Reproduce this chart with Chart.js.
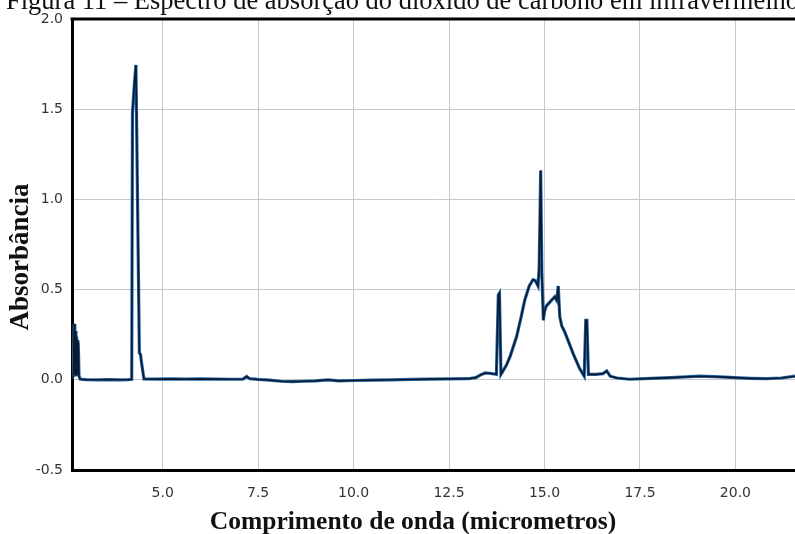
<!DOCTYPE html>
<html>
<head>
<meta charset="utf-8">
<script src="https://cdn.jsdelivr.net/npm/chart.js@4/dist/chart.umd.min.js"></script>
<style>
  html, body { margin: 0; padding: 0; background: #ffffff; overflow: hidden; }
  #wrap { position: relative; width: 795px; height: 534px; }
</style>
</head>
<body>
<div id="wrap"><canvas id="c" width="795" height="534"></canvas></div>
<script>
// ---- Data ----
const chartTitle = "Figura 11 – Espectro de absorção do dióxido de carbono em infravermelho";
const xAxisTitle = "Comprimento de onda (micrometros)";
const yAxisTitle = "Absorbância";

const wavelength = [
  2.626, 2.66, 2.685, 2.70, 2.715, 2.73, 2.745, 2.76, 2.775, 2.79, 2.81, 2.84, 2.9,
  3.0, 3.3, 3.6, 3.9, 4.1, 4.19, 4.21, 4.26, 4.30, 4.39, 4.42, 4.45, 4.51,
  4.8, 5.2, 5.6, 6.0, 6.4, 6.8, 7.1, 7.2, 7.28, 7.5, 7.8, 8.1, 8.4, 8.7, 9.0,
  9.33, 9.6, 10.0, 10.5, 11.0, 11.5, 12.0, 12.5, 13.0, 13.2, 13.35, 13.45, 13.6,
  13.74, 13.79, 13.82, 13.86, 14.0, 14.1, 14.27, 14.4, 14.48, 14.6, 14.7, 14.76,
  14.83, 14.86, 14.90, 14.93, 14.97, 15.0, 15.05, 15.18, 15.27, 15.32, 15.36,
  15.40, 15.45, 15.53, 15.75, 15.92, 16.04, 16.08, 16.11, 16.15, 16.35, 16.53,
  16.63, 16.72, 16.9, 17.23, 17.8, 18.3, 19.07, 19.6, 19.98, 20.4, 20.81, 21.2, 21.56
];
const absorbance = [
  0.01, 0.02, 0.31, 0.03, 0.27, 0.02, 0.24, 0.03, 0.22, 0.20, 0.02, 0.004, 0.002,
  0.001, 0.0, 0.001, 0.0, 0.001, 0.003, 1.48, 1.64, 1.745, 0.15, 0.14, 0.09, 0.005,
  0.004, 0.005, 0.004, 0.005, 0.004, 0.003, 0.004, 0.018, 0.006, 0.002, -0.002, -0.008, -0.01, -0.008, -0.006,
  0.0, -0.006, -0.004, -0.002, 0.0, 0.002, 0.004, 0.005, 0.006, 0.012, 0.03, 0.038, 0.035,
  0.03, 0.47, 0.48, 0.03, 0.08, 0.13, 0.24, 0.36, 0.44, 0.52, 0.555, 0.55,
  0.52, 0.62, 1.16, 0.6, 0.33, 0.38, 0.41, 0.44, 0.46, 0.44, 0.52,
  0.35, 0.30, 0.265, 0.145, 0.062, 0.02, 0.33, 0.33, 0.03, 0.03, 0.034,
  0.049, 0.02, 0.01, 0.003, 0.008, 0.012, 0.02, 0.016, 0.012, 0.008, 0.006, 0.01, 0.02
];
const xTickValues = [5.0, 7.5, 10.0, 12.5, 15.0, 17.5, 20.0];
const yTickValues = [-0.5, 0.0, 0.5, 1.0, 1.5, 2.0];

const points = wavelength.map((w, i) => ({ x: w, y: absorbance[i] }));

const textPlugin = {
  id: 'texts',
  afterDraw(chart) {
    const ctx = chart.ctx;
    const area = chart.chartArea;
    ctx.save();
    // top frame line
    ctx.strokeStyle = '#000';
    ctx.lineWidth = 3;
    ctx.beginPath();
    ctx.moveTo(area.left - 1.5, area.top);
    ctx.lineTo(chart.width, area.top);
    ctx.stroke();
    // figure caption (cut at the top like the reference)
    ctx.fillStyle = '#111';
    ctx.font = '26.5px "Liberation Serif", "Times New Roman", serif';
    ctx.textAlign = 'left';
    ctx.textBaseline = 'alphabetic';
    ctx.fillText(chartTitle, 6, 9);
    // x axis title
    ctx.font = 'bold 25.5px "Liberation Serif", "Times New Roman", serif';
    ctx.textAlign = 'center';
    ctx.textBaseline = 'middle';
    ctx.fillText(xAxisTitle, 413, 522);
    // y axis title
    ctx.translate(21, 257);
    ctx.rotate(-Math.PI / 2);
    ctx.font = 'bold 27px "Liberation Serif", "Times New Roman", serif';
    ctx.fillText(yAxisTitle, 0, 0);
    ctx.restore();
  }
};

new Chart(document.getElementById('c'), {
  type: 'line',
  data: {
    datasets: [
      { data: points, borderColor: '#0b1a30', borderWidth: 1.6, pointRadius: 0, tension: 0, fill: false },
      { data: points, borderColor: '#2468a8', borderWidth: 3.2, pointRadius: 0, tension: 0, fill: false }
    ]
  },
  options: {
    responsive: false,
    animation: false,
    devicePixelRatio: 1,
    layout: { padding: { top: 19, right: 0, bottom: 0, left: 0 } },
    plugins: { legend: { display: false }, tooltip: { enabled: false }, title: { display: false } },
    scales: {
      x: {
        type: 'linear',
        min: 2.626,
        max: 21.56,
        afterBuildTicks: s => { s.ticks = xTickValues.map(v => ({ value: v })); },
        afterFit: s => { s.height = 64; },
        ticks: {
          callback: v => Number(v).toFixed(1),
          font: { family: '"DejaVu Sans", Verdana, sans-serif', size: 14 },
          color: '#333',
          padding: 15,
          maxRotation: 0
        },
        grid: { color: '#c8c8c8', lineWidth: 1, drawTicks: false },
        border: { display: true, color: '#000', width: 3 }
      },
      y: {
        type: 'linear',
        min: -0.5,
        max: 2.0,
        afterBuildTicks: s => { s.ticks = yTickValues.map(v => ({ value: v })); },
        afterFit: s => { s.width = 72; },
        ticks: {
          callback: v => Number(v).toFixed(1),
          font: { family: '"DejaVu Sans", Verdana, sans-serif', size: 14 },
          color: '#333',
          padding: 9
        },
        grid: { color: '#c8c8c8', lineWidth: 1, drawTicks: false },
        border: { display: true, color: '#000', width: 3 }
      }
    }
  },
  plugins: [textPlugin]
});
</script>
</body>
</html>
